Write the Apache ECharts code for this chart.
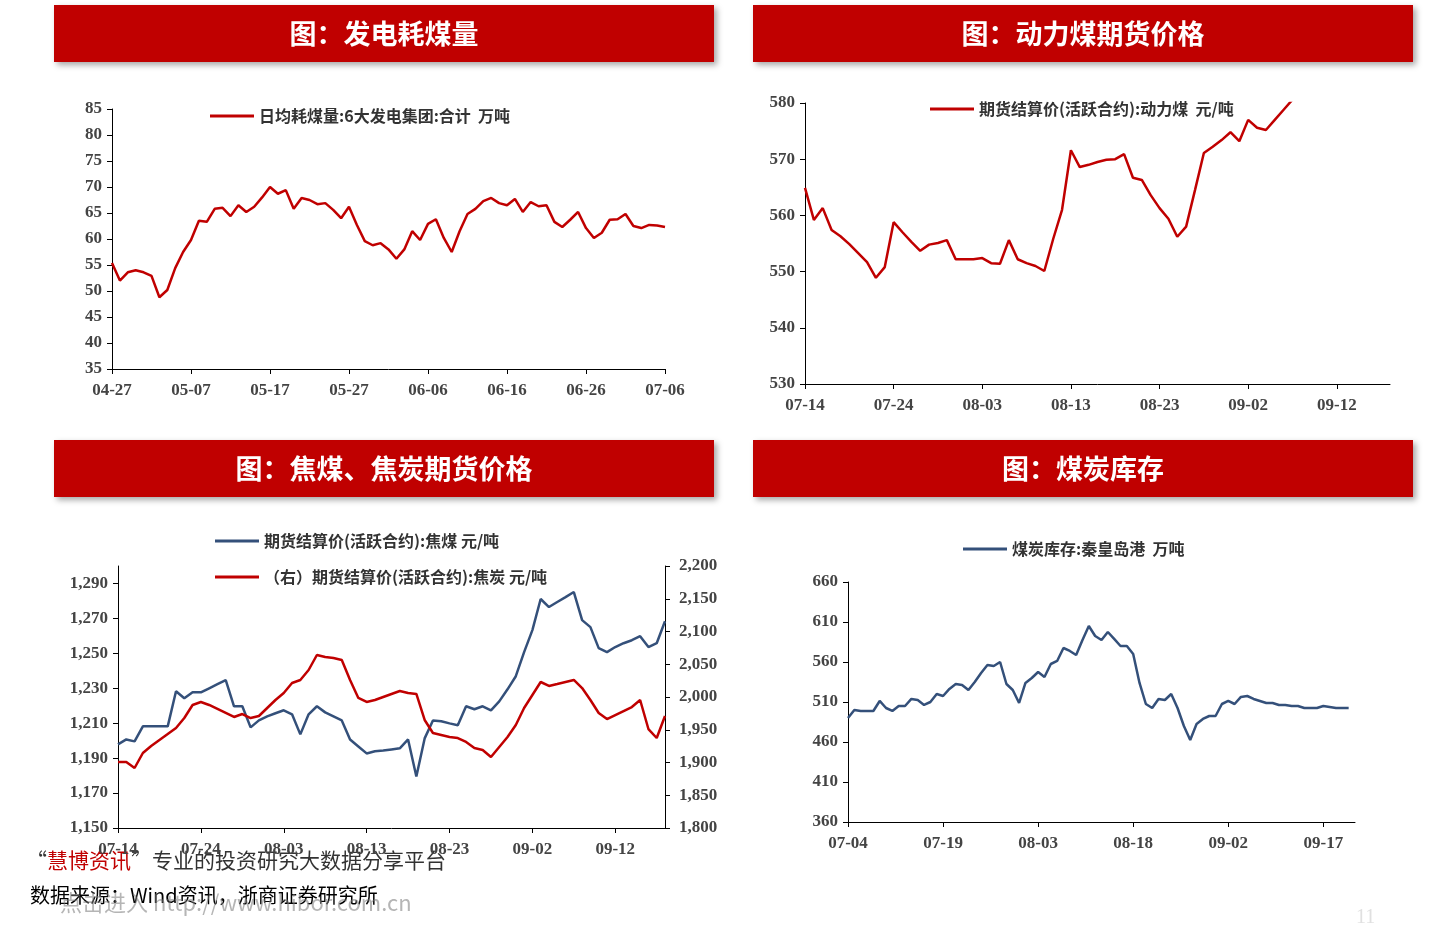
<!DOCTYPE html>
<html><head><meta charset="utf-8">
<script src="https://cdn.jsdelivr.net/npm/echarts@6/dist/echarts.min.js"></script>
<style>html,body{margin:0;padding:0;background:#fff}#c{width:1440px;height:932px}</style>
</head><body><div id="c"></div>
<script>
function days(startM, startD, n){var out=[];var d=new Date(2020,startM-1,startD);for(var i=0;i<n;i++){out.push(String(d.getMonth()+1).padStart(2,'0')+'-'+String(d.getDate()).padStart(2,'0'));d.setDate(d.getDate()+1);}return out;}
const cats1 = days(4,27,71);
const coalBurn = [55.4,52,53.6,54,53.6,52.9,48.8,50.2,54.4,57.5,59.8,63.5,63.3,65.8,66,64.4,66.5,65.2,66.2,68,70,68.7,69.4,65.8,67.9,67.5,66.7,66.9,65.6,64,66.2,62.7,59.6,58.8,59.2,58,56.2,58,61.5,59.8,62.9,63.8,60.2,57.5,61.5,64.8,65.8,67.3,67.9,66.9,66.5,67.7,65.2,67.1,66.3,66.5,63.3,62.3,63.7,65.2,62.1,60.2,61.2,63.7,63.8,64.8,62.5,62.1,62.7,62.6,62.3];
const cats2 = days(7,14,67);
const thermalCoal = [564.9,559.2,561.3,557.4,556.3,554.9,553.3,551.7,548.9,550.8,558.8,557,555.3,553.7,554.8,555.1,555.6,552.2,552.2,552.2,552.4,551.5,551.4,555.6,552.2,551.5,551,550.1,555.8,561,571.6,568.6,569,569.5,569.9,570,570.9,566.7,566.3,563.6,561.3,559.4,556.2,558,564.5,571.1,572.2,573.4,574.8,573.2,577,575.6,575.2,577,578.8,580.6];
const cats3 = days(7,14,67);
const cokingCoal = [1197.9,1200.7,1199.6,1208.2,1208.2,1208.2,1208.2,1228.3,1224.3,1227.7,1227.7,1230,1232.3,1234.6,1219.7,1219.7,1207.6,1211.6,1213.9,1215.7,1217.4,1215.1,1203.6,1215.1,1219.7,1216.2,1213.9,1211.6,1200.7,1196.7,1192.7,1193.9,1194.4,1195,1195.6,1200.7,1179.5,1201.3,1211.6,1211.1,1209.9,1208.8,1219.7,1218,1219.7,1217.4,1222.5,1229.4,1236.9,1250.7,1263.3,1281.1,1276.5,1279.4,1282.2,1285.1,1269,1265,1253,1250.7,1253.6,1255.8,1257.5,1259.8,1253.6,1255.8,1268.4];
const coke = [1900.8,1900.8,1891.6,1914.5,1925.2,1934.4,1943.5,1952.7,1967.9,1987.8,1992.4,1987.8,1981.7,1975.6,1969.5,1974,1967.9,1971,1983.2,1995.4,2006.1,2021.4,2026,2041.2,2064.1,2061.1,2059.5,2056.5,2026,1998.5,1992.4,1995.4,2000,2004.6,2009.2,2006.1,2004.6,1964.9,1945,1942,1939,1937.4,1931.3,1922.1,1919.1,1908.4,1923.7,1939,1957.3,1983.2,2003.1,2022.9,2016.8,2019.8,2022.9,2026,2013.7,1995.4,1975.6,1966.4,1972.5,1978.6,1984.7,1995.4,1951.1,1937.4,1971];
const cats4 = days(7,4,81);
const qhdStock = [490,500,498.8,498.8,498.8,511.3,502.5,498.8,505,505,513.8,512.5,506.3,510,520,517.5,526.3,532.5,531.3,525,535,546.3,556.3,555,560,532.5,525,508.8,533.8,540,547.5,541.3,557.5,561.3,577.5,573.8,568.8,587.5,605,592.5,587.5,597.5,588.8,580,580,570,533.8,507.5,502.5,513.8,512.5,520,502.5,480,462.5,482.5,488.8,492.5,492.5,507.5,511.3,507.5,516.3,517.5,513.8,511.3,508.8,508.8,506.3,506.3,505,505,502.5,502.5,502.5,505,503.8,502.5,502.5,502.5,null];
const titles = ['图：发电耗煤量','图：动力煤期货价格','图：焦煤、焦炭期货价格','图：煤炭库存'];

const RED='#c00000', BLUE='#34507a', SERIF='"Liberation Serif","DejaVu Serif",serif', CJK='"Noto Sans CJK SC",sans-serif';
function xAx(grid,data,interval){return {type:'category',gridIndex:grid,data:data,boundaryGap:false,
 axisLine:{lineStyle:{color:'#000',width:1}},axisTick:{interval:interval,length:5,lineStyle:{color:'#000'}},
 axisLabel:{interval:interval,color:'#444',fontFamily:SERIF,fontSize:17,fontWeight:'bold',margin:13}};}
function yAx(grid,min,max,iv,extra){return Object.assign({type:'value',gridIndex:grid,min:min,max:max,interval:iv,splitLine:{show:false},
 axisLine:{show:true,lineStyle:{color:'#000'}},axisTick:{show:true,length:5,lineStyle:{color:'#000'}},
 axisLabel:{color:'#444',fontFamily:SERIF,fontSize:17,fontWeight:'bold',margin:10}},extra||{});}
function line(name,x,y,data,color){return {name:name,type:'line',xAxisIndex:x,yAxisIndex:y,data:data,showSymbol:false,
 lineStyle:{color:color,width:2.5},itemStyle:{color:color},clip:true,connectNulls:false};}
function leg(name,left,top){return {data:[name],left:left,top:top,icon:'rect',itemWidth:44,itemHeight:3,itemGap:6,
 textStyle:{fontFamily:CJK,fontSize:16,color:'#333',fontWeight:'bold'}};}
var fmt=function(v){return v.toLocaleString('en-US');};
var banners=[[54,5],[753,5],[54,440],[753,440]].map(function(p,i){return {type:'group',left:p[0],top:p[1],children:[
 {type:'rect',shape:{x:0,y:0,width:660,height:57},style:{fill:RED,shadowBlur:6,shadowOffsetX:3,shadowOffsetY:3,shadowColor:'rgba(0,0,0,0.35)'}},
 {type:'text',x:330,y:29,style:{text:titles[i],fill:'#fff',font:'bold 27px "Noto Sans CJK SC"',align:'center',verticalAlign:'middle'}}]};});
var chart=echarts.init(document.getElementById('c'));
chart.setOption({animation:false,
 grid:[{left:112,right:775,top:109,bottom:563},{left:805,right:50,top:103,bottom:548},{left:118,right:775,top:566,bottom:104},{left:848,right:85,top:582,bottom:110}],
 xAxis:[xAx(0,cats1,9),xAx(1,cats2,9),xAx(2,cats3,9),xAx(3,cats4,14)],
 yAxis:[yAx(0,35,85,5),yAx(1,530,580,10),yAx(2,1150,1300,20,{axisLabel:{showMaxLabel:false,color:'#444',fontFamily:SERIF,fontSize:17,fontWeight:'bold',margin:10,formatter:fmt}}),
  yAx(2,1800,2200,50,{position:'right',axisLabel:{color:'#444',fontFamily:SERIF,fontSize:17,fontWeight:'bold',margin:14,formatter:fmt}}),
  yAx(3,360,660,50)],
 legend:[leg('日均耗煤量:6大发电集团:合计  万吨',205,103),leg('期货结算价(活跃合约):动力煤  元/吨',925,96),
  leg('期货结算价(活跃合约):焦煤 元/吨',210,528),leg('（右）期货结算价(活跃合约):焦炭 元/吨',210,564),leg('煤炭库存:秦皇岛港  万吨',958,536)],
 series:[line('日均耗煤量:6大发电集团:合计  万吨',0,0,coalBurn,RED),line('期货结算价(活跃合约):动力煤  元/吨',1,1,thermalCoal,RED),
  line('期货结算价(活跃合约):焦煤 元/吨',2,2,cokingCoal,BLUE),line('（右）期货结算价(活跃合约):焦炭 元/吨',2,3,coke,RED),
  line('煤炭库存:秦皇岛港  万吨',3,4,qhdStock,BLUE)],
 graphic:banners.concat([
  {type:'text',left:60,top:892,z:1,style:{text:'点击进入 http://www.hibor.com.cn',fill:'rgba(120,120,120,0.55)',font:'22px "Noto Sans CJK SC"'}},
  {type:'text',left:26,top:850,style:{rich:{r:{fill:RED,font:'21px "Noto Sans CJK SC"'},b:{fill:'#333',font:'21px "Noto Sans CJK SC"'}},text:'{b|“}{r|慧博资讯}{b|”专业的投资研究大数据分享平台}'}},
  {type:'text',left:30,top:885,style:{text:'数据来源：Wind资讯，浙商证券研究所',fill:'#000',font:'20px "Noto Sans CJK SC"'}},
  {type:'text',left:1356,top:908,style:{text:'11',fill:'#e0e0e0',font:'20px "Liberation Serif"'}}
 ])
});
</script></body></html>
